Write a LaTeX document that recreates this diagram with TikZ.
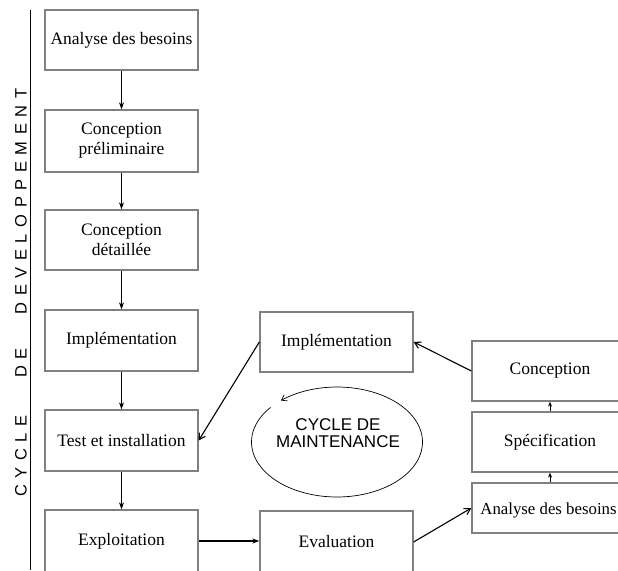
\documentclass[tikz,border=0pt]{standalone}
\usepackage{fontspec}
\setmainfont{Liberation Serif}
\newfontfamily\vertfont[LetterSpace=40]{Liberation Sans}
\newfontfamily\ellfont{Liberation Sans}
\usetikzlibrary{arrows.meta}
\definecolor{boxgray}{RGB}{128,128,128}
\tikzset{
  stepbox/.style={draw=boxgray, line width=1.3pt, minimum width=153pt, minimum height=60pt,
    inner sep=0pt, align=center, font=\fontsize{17.5}{20}\selectfont},
  rbox/.style={stepbox, minimum width=156pt},
  flow/.style={line width=1.1pt, -{Stealth[length=7pt,width=5pt]}},
  flowv/.style={line width=1.1pt, -{Straight Barb[length=6pt,width=7pt]}},
  vlabel/.style={rotate=90, inner sep=0pt, font=\vertfont\fontsize{16.5}{18}\selectfont}
}
\begin{document}
\begin{tikzpicture}[x=1pt,y=-1pt]
\useasboundingbox (0,0) rectangle (618,570);
\clip (0,0) rectangle (618,570);
% left development column
\node[stepbox] (a1) at (121.5,40) {Analyse des besoins};
\node[stepbox, minimum height=62pt] (a2) at (121.5,141) {Conception\\préliminaire};
\node[stepbox] (a3) at (121.5,240) {Conception\\détaillée};
\node[stepbox, minimum height=61pt] (a4) at (121.5,340.5) {Implémentation};
\node[stepbox, minimum height=61pt] (a5) at (121.5,440.5) {Test et installation};
\node[stepbox, minimum height=62pt] (a6) at (121.5,541) {Exploitation};
% maintenance cycle
\node[stepbox] (m1) at (336.5,342) {Implémentation};
\node[stepbox, minimum height=62pt] (m2) at (336.5,542) {Evaluation};
\node[rbox] (r1) at (550,371) {Conception};
\node[rbox] (r2) at (550,442) {Spécification};
\node[rbox, minimum height=50pt] (r3) at (550,508) {};
\node[inner sep=0pt, font=\fontsize{16.8}{20}\selectfont] (r3t) at (548.5,510) {Analyse des besoins};
% connectors
\draw[flow] (a1) -- (a2);
\draw[flow] (a2) -- (a3);
\draw[flow] (a3) -- (a4);
\draw[flow] (a4) -- (a5);
\draw[flow] (a5) -- (a6);
\draw[flow] (a6.east) -- (m2.west |- a6.east);
\draw[flowv] (m2.east) -- (r3.west);
\draw[line width=1pt, -{Stealth[length=5pt,width=4pt]}] (r3.north) -- (r2.south);
\draw[line width=1pt, -{Stealth[length=5pt,width=4pt]}] (r2.north) -- (r1.south);
\draw[flowv] (r1.west) -- (m1.east);
\draw[flowv] (m1.west) -- (a5.east);
% ellipse
\node[align=center, inner sep=0pt, font=\ellfont\fontsize{17}{16.5}\selectfont] (ell) at (338,433) {CYCLE DE\\MAINTENANCE};
\draw[line width=0.7pt, -{Straight Barb[length=5pt,width=7pt]}]
  plot[domain=141:491, samples=120, smooth] ({337+85.5*cos(\x)}, {442-55*sin(\x)});
% side label
\coordinate (vtop) at (30,10);
\coordinate (vbot) at (30,570);
\draw[line width=1pt] (vtop) -- (vbot);
\node[vlabel] (w3) at (21,456) {CYCLE};
\node[vlabel] (w2) at (21,363) {DE};
\node[vlabel] (w1) at (21,201.5) {DEVELOPPEMENT};
\end{tikzpicture}
\end{document}
